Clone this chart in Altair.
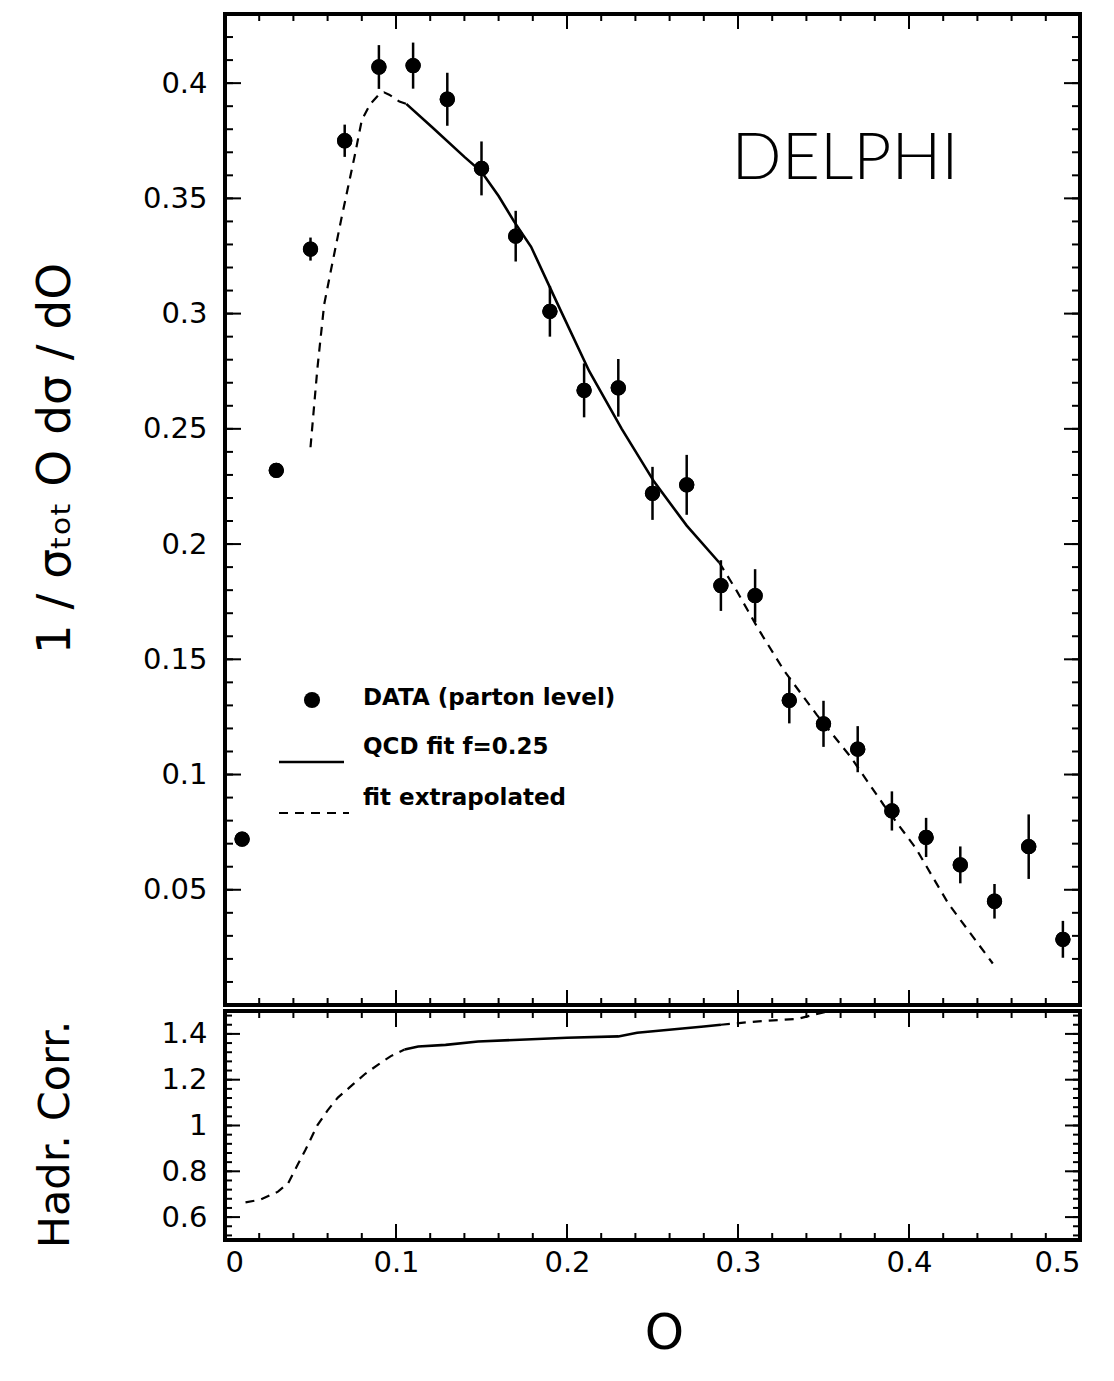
import altair as alt
import pandas as pd

# ---------------- data ----------------
o_bins = [0.01, 0.03, 0.05, 0.07, 0.09, 0.11, 0.13, 0.15, 0.17, 0.19, 0.21, 0.23,
          0.25, 0.27, 0.29, 0.31, 0.33, 0.35, 0.37, 0.39, 0.41, 0.43, 0.45, 0.47, 0.49]
data_vals = [0.072, 0.232, 0.328, 0.375, 0.407, 0.4076, 0.393, 0.363, 0.3336, 0.301,
             0.2667, 0.2678, 0.222, 0.2257, 0.182, 0.1776, 0.1322, 0.122, 0.111, 0.0842,
             0.0727, 0.0608, 0.045, 0.0687, 0.0285]
data_errs = [0.003, 0.003, 0.005, 0.007, 0.0095, 0.010, 0.0115, 0.0117, 0.011, 0.011,
             0.0117, 0.0125, 0.0115, 0.013, 0.011, 0.0115, 0.010, 0.010, 0.010, 0.0085,
             0.0085, 0.008, 0.0075, 0.014, 0.008]

# QCD fit (top panel): extrapolated low part, fitted range, extrapolated high part
fit_lo_x = [0.050, 0.054, 0.058, 0.062, 0.068, 0.072, 0.076, 0.080, 0.085, 0.090, 0.093, 0.096, 0.102, 0.106]
fit_lo_y = [0.242, 0.276, 0.304, 0.319, 0.341, 0.355, 0.369, 0.384, 0.391, 0.395, 0.396, 0.395, 0.392, 0.391]
fit_mid_x = [0.106, 0.121, 0.140, 0.150, 0.160, 0.169, 0.179, 0.194, 0.213, 0.232, 0.251, 0.270, 0.289]
fit_mid_y = [0.391, 0.381, 0.368, 0.3615, 0.351, 0.340, 0.329, 0.305, 0.275, 0.250, 0.227, 0.208, 0.192]
fit_hi_x = [0.289, 0.299, 0.312, 0.327, 0.346, 0.366, 0.385, 0.404, 0.423, 0.449]
fit_hi_y = [0.192, 0.180, 0.163, 0.145, 0.126, 0.1075, 0.087, 0.068, 0.044, 0.018]

# hadronisation correction (bottom panel)
hc_lo_x = [0.012, 0.021, 0.031, 0.037, 0.040, 0.043, 0.047, 0.054, 0.060, 0.066, 0.074, 0.082, 0.090, 0.097, 0.105]
hc_lo_y = [0.664, 0.677, 0.711, 0.749, 0.793, 0.836, 0.893, 1.001, 1.066, 1.122, 1.174, 1.226, 1.268, 1.303, 1.332]
hc_mid_x = [0.105, 0.113, 0.129, 0.148, 0.200, 0.230, 0.241, 0.280, 0.290]
hc_mid_y = [1.332, 1.345, 1.352, 1.367, 1.383, 1.389, 1.405, 1.432, 1.440]
hc_hi_x = [0.290, 0.312, 0.335, 0.350, 0.360]
hc_hi_y = [1.440, 1.455, 1.466, 1.494, 1.500]

top_y_labels = [0.05, 0.1, 0.15, 0.2, 0.25, 0.3, 0.35, 0.4]
bot_y_labels = [0.6, 0.8, 1.0, 1.2, 1.4]
x_labels = [0, 0.1, 0.2, 0.3, 0.4, 0.5]

# ---------------- layout ----------------
FONT = "DejaVu Sans"
W, H1, H2 = 855, 991, 229

xscale = alt.Scale(domain=[0, 0.5], nice=False, zero=False)
y1scale = alt.Scale(domain=[0, 0.43], nice=False, zero=False)
y2scale = alt.Scale(domain=[0.5, 1.5], nice=False, zero=False)

top_minor_y = [round(0.01 * i, 2) for i in range(1, 44)]
bot_minor_y = [round(0.52 + 0.04 * i, 2) for i in range(25)]
minor_x = [round(0.02 * i, 2) for i in range(1, 25)]
major_x = [0.1, 0.2, 0.3, 0.4]

# axes: the same object is used by every layer of a panel so they merge cleanly
top_xaxis = None
top_yaxis = alt.Axis(
    title="1 / σₜₒₜ  O  dσ / dO", values=top_y_labels, format=".2~f",
    ticks=False, domain=False, grid=False, labelPadding=18, labelFontSize=29,
    titleFontSize=47, titleX=-170, titleY=444, titleAngle=270,
    titleAlign="center", titleBaseline="middle")
bot_xaxis = alt.Axis(
    title="O", values=x_labels, format=".1~f", ticks=False, domain=False, grid=False,
    labelPadding=8, labelFontSize=29, titleFontSize=50, titleX=439, titleY=93,
    titleBaseline="middle")
bot_yaxis = alt.Axis(
    title="Hadr. Corr.", values=bot_y_labels, format="~g", ticks=False, domain=False,
    grid=False, labelPadding=18, labelFontSize=29, titleFontSize=43, titleX=-170,
    titleY=123, titleAngle=270, titleAlign="center", titleBaseline="middle")


def X(field, axis):
    return alt.X(field, type="quantitative", scale=xscale, axis=axis)


def Y(field, scale, axis):
    return alt.Y(field, type="quantitative", scale=scale, axis=axis)


def ticks_y(vals, length, yscale, yaxis):
    df = pd.DataFrame({"y": vals})
    base = alt.Chart(df).mark_rule(color="black", strokeWidth=2)
    left = base.encode(y=Y("y", yscale, yaxis), x=alt.value(0), x2=alt.value(length))
    right = base.encode(y=Y("y", yscale, yaxis), x=alt.value(W - length), x2=alt.value(W))
    return [left, right]


def ticks_x(vals, length, height, xaxis):
    df = pd.DataFrame({"x": vals})
    base = alt.Chart(df).mark_rule(color="black", strokeWidth=2)
    top = base.encode(x=X("x", xaxis), y=alt.value(0), y2=alt.value(length))
    bottom = base.encode(x=X("x", xaxis), y=alt.value(height - length), y2=alt.value(height))
    return [top, bottom]


def curve(xs, ys, yscale, xaxis, yaxis, dashed):
    df = pd.DataFrame({"x": xs, "y": ys})
    kw = dict(color="black", strokeWidth=2.2, clip=True)
    if dashed:
        kw["strokeDash"] = [9, 7]
    else:
        kw["strokeWidth"] = 2.6
    return alt.Chart(df).mark_line(**kw).encode(
        x=X("x", xaxis), y=Y("y", yscale, yaxis))


# ---------------- top panel ----------------
pts = pd.DataFrame({
    "x": o_bins,
    "y": data_vals,
    "lo": [v - e for v, e in zip(data_vals, data_errs)],
    "hi": [v + e for v, e in zip(data_vals, data_errs)],
})

errbars = alt.Chart(pts).mark_rule(color="black", strokeWidth=2.5).encode(
    x=X("x", top_xaxis), y=Y("lo", y1scale, top_yaxis), y2="hi:Q")
points = alt.Chart(pts).mark_circle(size=235, color="black", opacity=1).encode(
    x=X("x", top_xaxis), y=Y("y", y1scale, top_yaxis))

dummy = pd.DataFrame({"k": [0]})
leg_font = dict(align="left", baseline="middle", fontSize=23, fontWeight="bold", font=FONT)
leg_pt = alt.Chart(dummy).mark_circle(size=260, color="black", opacity=1).encode(
    x=alt.value(87), y=alt.value(686))
leg_t1 = alt.Chart(dummy).mark_text(text="DATA (parton level)", **leg_font).encode(
    x=alt.value(138), y=alt.value(684))
leg_l2 = alt.Chart(dummy).mark_rule(color="black", strokeWidth=2.4).encode(
    x=alt.value(54), x2=alt.value(119), y=alt.value(748))
leg_t2 = alt.Chart(dummy).mark_text(text="QCD fit f=0.25", **leg_font).encode(
    x=alt.value(138), y=alt.value(733))
leg_l3 = alt.Chart(dummy).mark_rule(color="black", strokeWidth=2.2, strokeDash=[9, 7]).encode(
    x=alt.value(54), x2=alt.value(124), y=alt.value(799))
leg_t3 = alt.Chart(dummy).mark_text(text="fit extrapolated", **leg_font).encode(
    x=alt.value(138), y=alt.value(784))
delphi = alt.Chart(dummy).mark_text(text="DELPHI", align="center", baseline="middle",
                                    fontSize=66, fontWeight=300, font="Lato").encode(
    x=alt.value(620), y=alt.value(145))

top_layers = (
    [points]
    + ticks_y(top_minor_y, 8, y1scale, top_yaxis)
    + ticks_y(top_y_labels, 16, y1scale, top_yaxis)
    + ticks_x(minor_x, 7, H1, top_xaxis)
    + ticks_x(major_x, 15, H1, top_xaxis)
    + [curve(fit_lo_x, fit_lo_y, y1scale, top_xaxis, top_yaxis, True),
       curve(fit_mid_x, fit_mid_y, y1scale, top_xaxis, top_yaxis, False),
       curve(fit_hi_x, fit_hi_y, y1scale, top_xaxis, top_yaxis, True),
       errbars, points,
       leg_pt, leg_t1, leg_l2, leg_t2, leg_l3, leg_t3, delphi]
)
top = alt.layer(*top_layers).properties(width=W, height=H1)

# ---------------- bottom panel ----------------
bot_layers = (
    ticks_y(bot_minor_y, 7, y2scale, bot_yaxis)
    + ticks_y(bot_y_labels, 15, y2scale, bot_yaxis)
    + ticks_x(minor_x, 7, H2, bot_xaxis)
    + ticks_x(major_x, 16, H2, bot_xaxis)
    + [curve(hc_lo_x, hc_lo_y, y2scale, bot_xaxis, bot_yaxis, True),
       curve(hc_mid_x, hc_mid_y, y2scale, bot_xaxis, bot_yaxis, False),
       curve(hc_hi_x, hc_hi_y, y2scale, bot_xaxis, bot_yaxis, True)]
)
bottom = alt.layer(*bot_layers).properties(width=W, height=H2)

chart = (
    alt.vconcat(top, bottom, spacing=0)
    .properties(padding={"left": 21, "top": 3, "right": 10, "bottom": 10}, background="white")
    .configure_view(stroke="black", strokeWidth=4)
    .configure_axis(labelFont=FONT, titleFont=FONT, labelColor="black", titleColor="black",
                    titleFontWeight="normal")
)

chart.save("out.html", embed_options={"renderer": "svg", "actions": False})
